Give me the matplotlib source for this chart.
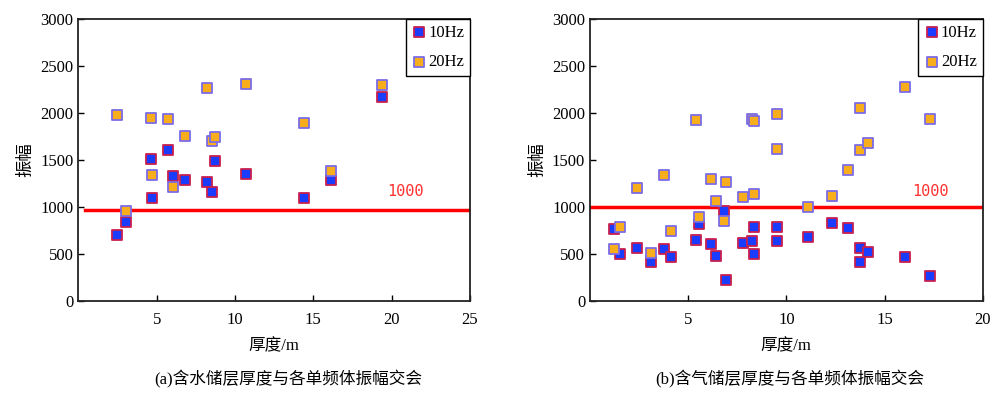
import matplotlib
matplotlib.use("Agg")
import matplotlib.pyplot as plt

plt.rcParams["font.family"] = ["Liberation Serif", "Noto Sans CJK SC"]

# ── (a) 含水储层 ──
thick_a   = [2.45, 3.03, 4.64, 4.72, 5.70, 6.04, 6.81, 8.23, 8.53, 8.70, 10.70, 14.38, 16.10, 19.38]
amp10_a   = [700, 837, 1507, 1096, 1603, 1333, 1284, 1269, 1156, 1493, 1347, 1096, 1287, 2174]
amp20_a   = [1975, 961, 1947, 1340, 1940, 1209, 1759, 2266, 1702, 1745, 2308, 1897, 1386, 2294]

# ── (b) 含气储层 ──
thick_b   = [1.21, 1.53, 2.41, 3.12, 3.78, 4.12, 5.42, 5.56, 6.15, 6.44, 6.83, 6.93, 7.81,
             8.25, 8.34, 8.34, 9.51, 9.51, 11.12, 12.35, 13.15, 13.74, 13.74, 14.18, 16.03, 17.32]
amp10_b   = [769, 500, 560, 411, 550, 472, 649, 819, 606, 479, 961, 220, 621,
             642, 791, 504, 791, 642, 681, 830, 780, 564, 411, 521, 472, 266]
amp20_b   = [557, 787, 1202, 514, 1344, 745, 1922, 897, 1298, 1060, 851, 1262, 1103,
             1933, 1911, 1138, 1986, 1617, 1000, 1120, 1390, 2057, 1610, 1677, 2277, 1933]

SERIES = ["10Hz", "20Hz"]
Y_TICKS = [0, 500, 1000, 1500, 2000, 2500, 3000]
THRESH_LABEL = "1000"
X_LABEL = "厚度/m"
Y_LABEL = "振幅"
CAPTIONS = ["(a)含水储层厚度与各单频体振幅交会", "(b)含气储层厚度与各单频体振幅交会"]

BLUE, BLUE_EDGE = "#1a3cff", "#c8204e"
ORANGE, ORANGE_EDGE = "#f8ad1c", "#7b6be6"

fig = plt.figure(figsize=(10, 3.97), dpi=100)
ax_a = fig.add_axes([0.0783, 0.2418, 0.3917, 0.7103])
ax_b = fig.add_axes([0.5900, 0.2418, 0.3927, 0.7103])


def draw(ax, x, y10, y20, xmax, thresh, line_start, text_x, caption, cap_x):
    ax.scatter(x, y10, marker="s", s=62, c=BLUE, edgecolors=BLUE_EDGE,
               linewidths=1.3, label=SERIES[0], zorder=3)
    ax.scatter(x, y20, marker="s", s=62, c=ORANGE, edgecolors=ORANGE_EDGE,
               linewidths=1.3, label=SERIES[1], zorder=4)
    ax.axhline(thresh, xmin=line_start, xmax=1, color="#ff0000", lw=2.5, zorder=2)
    ax.text(text_x, 1165, THRESH_LABEL, color="#ff3030", fontsize=11,
            ha="left", va="center", family="DejaVu Sans Mono")
    ax.set_xlim(0, xmax)
    ax.set_ylim(0, 3000)
    ax.set_yticks(Y_TICKS)
    ax.set_xticks(list(range(5, xmax + 1, 5)))
    ax.tick_params(direction="in", length=4, width=1, labelsize=12)
    ax.tick_params(axis="x", pad=8)
    for s in ax.spines.values():
        s.set_linewidth(1.3)
        s.set_color("#222222")
    ax.set_xlabel(X_LABEL, fontsize=12, labelpad=7)
    ax.set_ylabel(Y_LABEL, fontsize=12.5, labelpad=4)
    leg = ax.legend(loc="upper right", borderaxespad=0, fancybox=False,
                    edgecolor="black", framealpha=1, fontsize=12,
                    labelspacing=0.8, handletextpad=0.1, borderpad=0.35,
                    handlelength=0.9, scatterpoints=1, markerscale=1.0)
    leg.get_frame().set_linewidth(1.0)
    fig.text(cap_x, 0.045, caption, fontsize=12, ha="center", va="center")


draw(ax_a, thick_a, amp10_a, amp20_a, 25, 970, 0.017, 19.7, CAPTIONS[0], 0.288)
draw(ax_b, thick_b, amp10_b, amp20_b, 20, 995, 0.0, 16.4, CAPTIONS[1], 0.790)

fig.savefig("out.png", dpi=100)
